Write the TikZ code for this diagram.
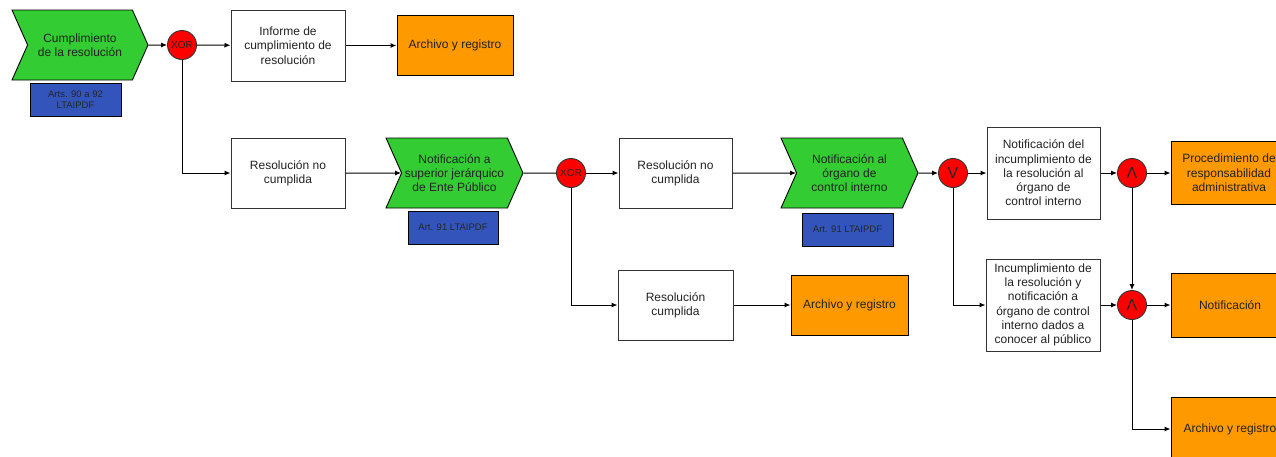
\documentclass[tikz,border=0pt]{standalone}
\usepackage{fontspec}
\setmainfont{Liberation Sans}
\usetikzlibrary{arrows,arrows.meta,shapes,shapes.symbols,positioning}

\definecolor{evgreen}{RGB}{51,204,51}
\definecolor{lawblue}{RGB}{51,85,187}
\definecolor{outorange}{RGB}{255,153,0}
\definecolor{inkgray}{RGB}{34,34,34}

\begin{document}
\begin{tikzpicture}[x=1pt, y=-1pt, >={Latex[length=6pt,width=5pt]}]
      \tikzset{
	  event/.style={shape=signal, signal to=east, signal from=west, signal pointer angle=132, draw=black, fill=evgreen, line width=0.9pt, inner sep=2pt, minimum width=136pt, minimum height=70pt, align=center, text=inkgray, font=\fontsize{12}{14.3}\selectfont},
	  task/.style={rectangle, draw=black!80, fill=white, line width=1pt, inner sep=2pt, minimum width=114pt, minimum height=70pt, align=center, text=inkgray, font=\fontsize{12}{14.3}\selectfont},
	  output/.style={rectangle, draw=black, fill=outorange, line width=1pt, inner sep=2pt, minimum width=116pt, minimum height=60pt, align=center, text=inkgray, font=\fontsize{12}{14.3}\selectfont},
	  law/.style={rectangle, draw=black, fill=lawblue, line width=0.9pt, inner sep=1pt, minimum width=91pt, minimum height=33pt, align=center, text=black!85, font=\fontsize{9.5}{11.5}\selectfont},
	  gate/.style={circle, draw=black!80, fill=red, line width=0.9pt, inner sep=0pt, minimum size=29pt, text=black!85},
	  flow/.style={->, line width=1pt, draw=black}
      }
      \useasboundingbox (0,0) rectangle (1276,456);

      \node at (80, 45) [event] (ev1) {Cumplimiento\\de la resolución};
      \node at (75.5, 99.5) [law] (law1) {Arts. 90 a 92\\LTAIPDF};
      \node at (182, 45) [gate, font=\fontsize{10}{10}\selectfont] (xor1) {XOR};
      \node at (288, 45.5) [task, minimum height=71pt] (inf1) {Informe de\\cumplimiento de\\resolución};
      \node at (455, 45.5) [output] (arc1) {Archivo y registro};

      \node at (288, 173) [task] (rnc1) {Resolución no\\cumplida};
      \node at (454.5, 173) [event, minimum width=137pt] (ev2) {Notificación a\\superior jerárquico\\de Ente Público};
      \node at (453, 227.5) [law, minimum width=90pt] (law2) {Art. 91 LTAIPDF};
      \node at (571, 173) [gate, font=\fontsize{10}{10}\selectfont] (xor2) {XOR};
      \node at (675.5, 173) [task, minimum width=113pt] (rnc2) {Resolución no\\cumplida};
      \node at (849.5, 173) [event, minimum width=137pt] (ev3) {Notificación al\\órgano de\\control interno};
      \node at (847.5, 229.5) [law] (law3) {Art. 91 LTAIPDF};
      \node at (953, 173) [gate, font=\fontsize{16}{16}\selectfont] (or1) {V};
      \node at (1043.5, 173) [task, minimum width=113pt, minimum height=92pt] (ntf) {Notificación del\\incumplimiento de\\la resolución al\\órgano de\\control interno};
      \node at (1132, 173) [gate, font=\fontsize{16}{16}\selectfont] (and1) {Λ};
      \node at (1229, 173) [output, minimum height=63pt] (pra) {Procedimiento de\\responsabilidad\\administrativa};

      \node at (675.5, 305) [task, minimum width=115pt] (rcu) {Resolución\\cumplida};
      \node at (849.5, 305) [output, minimum width=117pt] (arc2) {Archivo y registro};
      \node at (1043, 305) [task, minimum height=92pt] (inc) {Incumplimiento de\\la resolución y\\notificación a\\órgano de control\\interno dados a\\conocer al público};
      \node at (1132, 305) [gate, font=\fontsize{16}{16}\selectfont] (and2) {Λ};
      \node at (1230, 305) [output, minimum width=118pt, minimum height=64pt] (not) {Notificación};
      \node at (1230, 429) [output, minimum width=118pt, minimum height=64pt] (arc3) {Archivo y registro};

      \draw [flow] (ev1) -- (xor1);
      \draw [flow] (xor1) -- (inf1);
      \draw [flow] (inf1) -- (arc1);
      \draw [flow] (xor1) |- (rnc1);
      \draw [flow] (rnc1) -- (ev2);
      \draw [flow, -] (ev2) -- (xor2);
      \draw [flow] (xor2) -- (rnc2);
      \draw [flow] (xor2) |- (rcu);
      \draw [flow] (rcu) -- (arc2);
      \draw [flow] (rnc2) -- (ev3);
      \draw [flow] (ev3) -- (or1);
      \draw [flow] (or1) -- (ntf);
      \draw [flow] (or1) |- (inc);
      \draw [flow] (ntf) -- (and1);
      \draw [flow] (and1) -- (pra);
      \draw [flow] (and1) -- (and2);
      \draw [flow] (inc) -- (and2);
      \draw [flow] (and2) -- (not);
      \draw [flow] (and2) |- (arc3);
    \end{tikzpicture}
\end{document}
